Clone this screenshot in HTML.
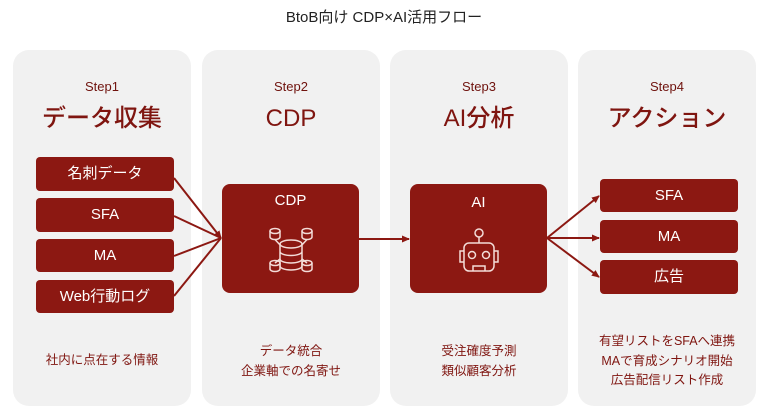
<!DOCTYPE html>
<html><head><meta charset="utf-8"><style>
body{margin:0;width:768px;height:413px;background:#fff;position:relative;overflow:hidden;font-family:"Liberation Sans","Noto Sans CJK JP",sans-serif;}
.t{position:absolute;left:0;width:768px;top:6px;text-align:center;font-size:15px;color:#222;}
.p{position:absolute;top:50px;height:356px;width:178px;background:#f1f1f1;border-radius:16px;}
.s{position:absolute;left:0;right:0;top:28px;line-height:18px;text-align:center;font-size:13px;color:#6f120d;}
.h{position:absolute;left:0;right:0;top:52px;line-height:34px;height:34px;text-align:center;font-size:24px;color:#7f1510;font-weight:500;font-family:"Liberation Sans","Noto Sans CJK JP",sans-serif;}
.c{position:absolute;left:0;right:0;text-align:center;font-size:12.5px;color:#7f1510;line-height:19.5px;}
.b{position:absolute;background:#8c1812;color:#fff;border-radius:4px;text-align:center;font-size:15px;}
</style></head><body>
<div class="t">BtoB向け CDP×AI活用フロー</div>
<div class="p" style="left:13px"><div class="s">Step1</div><div class="h">データ収集</div><div class="c" style="top:301px">社内に点在する情報</div></div>
<div class="p" style="left:202px"><div class="s">Step2</div><div class="h">CDP</div><div class="c" style="top:292px">データ統合<br>企業軸での名寄せ</div></div>
<div class="p" style="left:390px"><div class="s">Step3</div><div class="h">AI分析</div><div class="c" style="top:292px">受注確度予測<br>類似顧客分析</div></div>
<div class="p" style="left:578px"><div class="s">Step4</div><div class="h">アクション</div><div class="c" style="top:282px">有望リストをSFAへ連携<br>MAで育成シナリオ開始<br>広告配信リスト作成</div></div>

<div class="b" style="left:36px;top:157px;width:138px;height:34px;line-height:34px">名刺データ</div>
<div class="b" style="left:36px;top:198px;width:138px;height:34px;line-height:34px">SFA</div>
<div class="b" style="left:36px;top:239px;width:138px;height:33px;line-height:33px">MA</div>
<div class="b" style="left:36px;top:280px;width:138px;height:33px;line-height:33px">Web行動ログ</div>

<div class="b" style="left:222px;top:184px;width:137px;height:109px;border-radius:8px"><div style="margin-top:8px;font-size:15px">CDP</div></div>
<div class="b" style="left:410px;top:184px;width:137px;height:109px;border-radius:8px"><div style="margin-top:10px;font-size:15px">AI</div></div>

<div class="b" style="left:600px;top:179px;width:138px;height:33px;line-height:33px">SFA</div>
<div class="b" style="left:600px;top:220px;width:138px;height:33px;line-height:33px">MA</div>
<div class="b" style="left:600px;top:260px;width:138px;height:34px;line-height:34px">広告</div>

<svg width="768" height="413" style="position:absolute;left:0;top:0" fill="none">
<defs><marker id="a" markerWidth="8" markerHeight="8" refX="7" refY="4" orient="auto" markerUnits="userSpaceOnUse"><path d="M0,0.5 L8,4 L0,7.5Z" fill="#8c1812"/></marker></defs>
<g stroke="#8c1812" stroke-width="2">
<line x1="174" y1="178" x2="221" y2="238" marker-end="url(#a)"/>
<line x1="174" y1="216" x2="221" y2="238"/>
<line x1="174" y1="256" x2="221" y2="238"/>
<line x1="174" y1="296" x2="221" y2="238"/>
<line x1="359" y1="239" x2="409" y2="239" marker-end="url(#a)"/>
<line x1="547" y1="238" x2="599" y2="196" marker-end="url(#a)"/>
<line x1="547" y1="238" x2="599" y2="238" marker-end="url(#a)"/>
<line x1="547" y1="238" x2="599" y2="277" marker-end="url(#a)"/>
</g>
<g stroke="#f3dcd8" stroke-width="1.5">
<ellipse cx="291" cy="244" rx="11" ry="4"/><path d="M280,244 V266 M302,244 V266 M280,251.5 a11,4 0 0 0 22,0 M280,259 a11,4 0 0 0 22,0 M280,266 a11,4 0 0 0 22,0"/>
<ellipse cx="275" cy="231" rx="5" ry="2.5"/><path d="M270,231 v6 a5,2.5 0 0 0 10,0 v-6"/>
<ellipse cx="307" cy="231" rx="5" ry="2.5"/><path d="M302,231 v6 a5,2.5 0 0 0 10,0 v-6"/>
<ellipse cx="275" cy="263" rx="5" ry="2.5"/><path d="M270,263 v6 a5,2.5 0 0 0 10,0 v-6"/>
<ellipse cx="307" cy="263" rx="5" ry="2.5"/><path d="M302,263 v6 a5,2.5 0 0 0 10,0 v-6"/>
<path d="M275,239.5 L281,246 M307,239.5 L301,246 M275,263 L280,259 M307,263 L302,259"/>
<circle cx="479" cy="233" r="4"/><path d="M479,237 V243"/>
<rect x="464" y="243" width="30" height="28" rx="5"/>
<path d="M464,251 h-4 v11 h4 M494,251 h4 v11 h-4"/>
<circle cx="472" cy="255" r="3.5"/><circle cx="486" cy="255" r="3.5"/>
<path d="M473,271 v-5 h12 v5"/>
</g>
</svg>
</body></html>
